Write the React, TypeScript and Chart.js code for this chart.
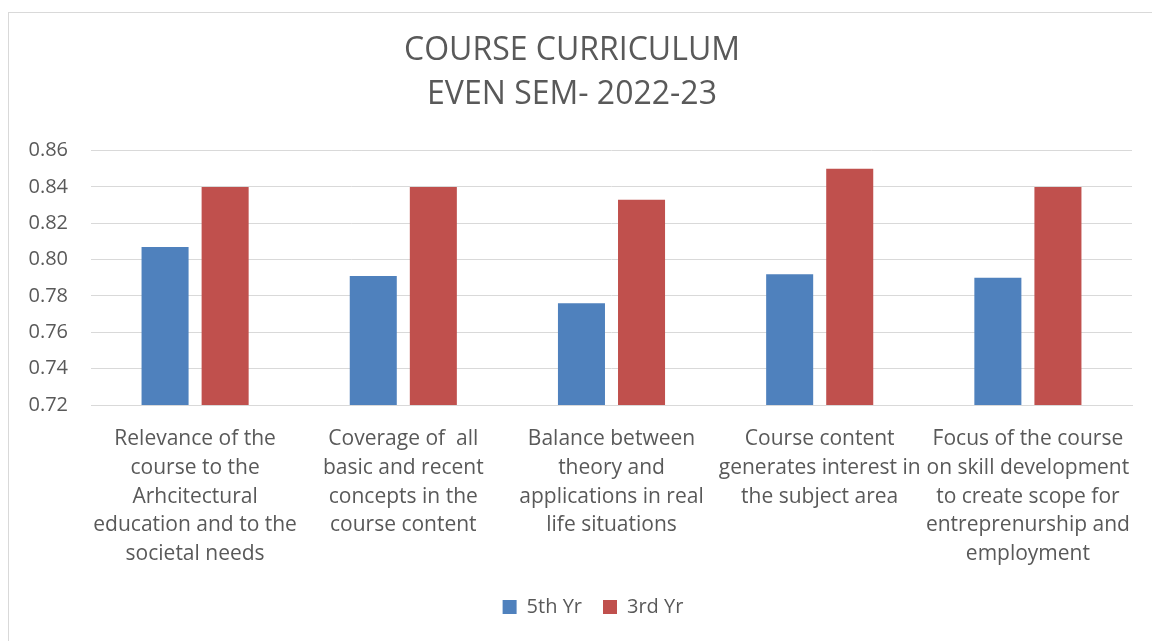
import React, { useEffect, useRef } from "react";
import { Chart, registerables } from "chart.js";

Chart.register(...registerables);

const titleLines = ["COURSE CURRICULUM", "EVEN SEM- 2022-23"];
const categories: string[][] = [
  ["Relevance of the", "course to the", "Arhcitectural", "education and to the", "societal needs"],
  ["Coverage of  all", "basic and recent", "concepts in the", "course content"],
  ["Balance between", "theory and", "applications in real", "life situations"],
  ["Course content", "generates interest in", "the subject area"],
  ["Focus of the course", "on skill development", "to create scope for", "entreprenurship and", "employment"],
];
const fifthYr = [0.807, 0.791, 0.776, 0.792, 0.790];
const thirdYr = [0.84, 0.84, 0.833, 0.85, 0.84];
const yMin = 0.72;
const yMax = 0.86;
const yStep = 0.02;

const FONT = "'Open Sans', 'Noto Sans', sans-serif";
const TEXT = "#595959";
const GRID = "#d9d9d9";

const legendShift = {
  id: "legendShift",
  afterLayout(chart: any) {
    const lg = chart.legend;
    if (lg) {
      lg.left += 21;
      lg.right += 21;
      if (lg.adjustHitBoxes) lg.adjustHitBoxes();
    }
  },
};

export default function App() {
  const ref = useRef<HTMLCanvasElement | null>(null);
  useEffect(() => {
    if (!ref.current) return;
    const chart = new Chart(ref.current, {
      type: "bar",
      data: {
        labels: categories,
        datasets: [
          {
            label: "5th Yr",
            data: fifthYr,
            backgroundColor: "#4F81BD",
            categoryPercentage: 0.577,
            barPercentage: 0.783,
          },
          {
            label: "3rd Yr",
            data: thirdYr,
            backgroundColor: "#C0504D",
            categoryPercentage: 0.577,
            barPercentage: 0.783,
          },
        ],
      },
      plugins: [legendShift],
      options: {
        animation: false,
        responsive: false,
        maintainAspectRatio: false,
        layout: { padding: { top: 20, left: 12, right: 20, bottom: 14 } },
        plugins: {
          title: {
            display: true,
            text: titleLines,
            color: TEXT,
            font: { family: FONT, size: 32, weight: "normal", lineHeight: 1.4 },
            padding: { top: 8, bottom: 33 },
          },
          legend: {
            position: "bottom",
            labels: {
              color: TEXT,
              font: { family: FONT, size: 20 },
              boxWidth: 14,
              boxHeight: 14,
              padding: 21,
            },
          },
          tooltip: { enabled: false },
        },
        scales: {
          x: {
            grid: { display: false, drawTicks: false },
            border: { display: true, color: GRID, width: 1 },
            ticks: {
              color: TEXT,
              font: { family: FONT, size: 21, lineHeight: 1.367 },
              padding: 20,
              maxRotation: 0,
              autoSkip: false,
            },
            afterFit: (s: any) => {
              s.height = 171;
            },
          },
          y: {
            min: yMin,
            max: yMax,
            grid: { color: GRID, lineWidth: 1, drawTicks: false },
            border: { display: false },
            ticks: {
              stepSize: yStep,
              color: TEXT,
              font: { family: FONT, size: 20 },
              padding: 23,
              callback: (v: any) => Number(v).toFixed(2),
            },
            afterFit: (s: any) => {
              s.width = 79;
            },
          },
        },
      },
    });
    return () => chart.destroy();
  }, []);
  return (
    <div style={{ position: "fixed", left: 0, top: 0, width: 1152, height: 641, background: "#fff" }}>
      <div
        style={{
          position: "absolute",
          left: 8,
          top: 12,
          width: 1200,
          height: 700,
          borderLeft: `1px solid ${GRID}`,
          borderTop: `1px solid ${GRID}`,
        }}
      />
      <canvas ref={ref} width={1152} height={641} style={{ position: "absolute", left: 0, top: 0 }} />
    </div>
  );
}
